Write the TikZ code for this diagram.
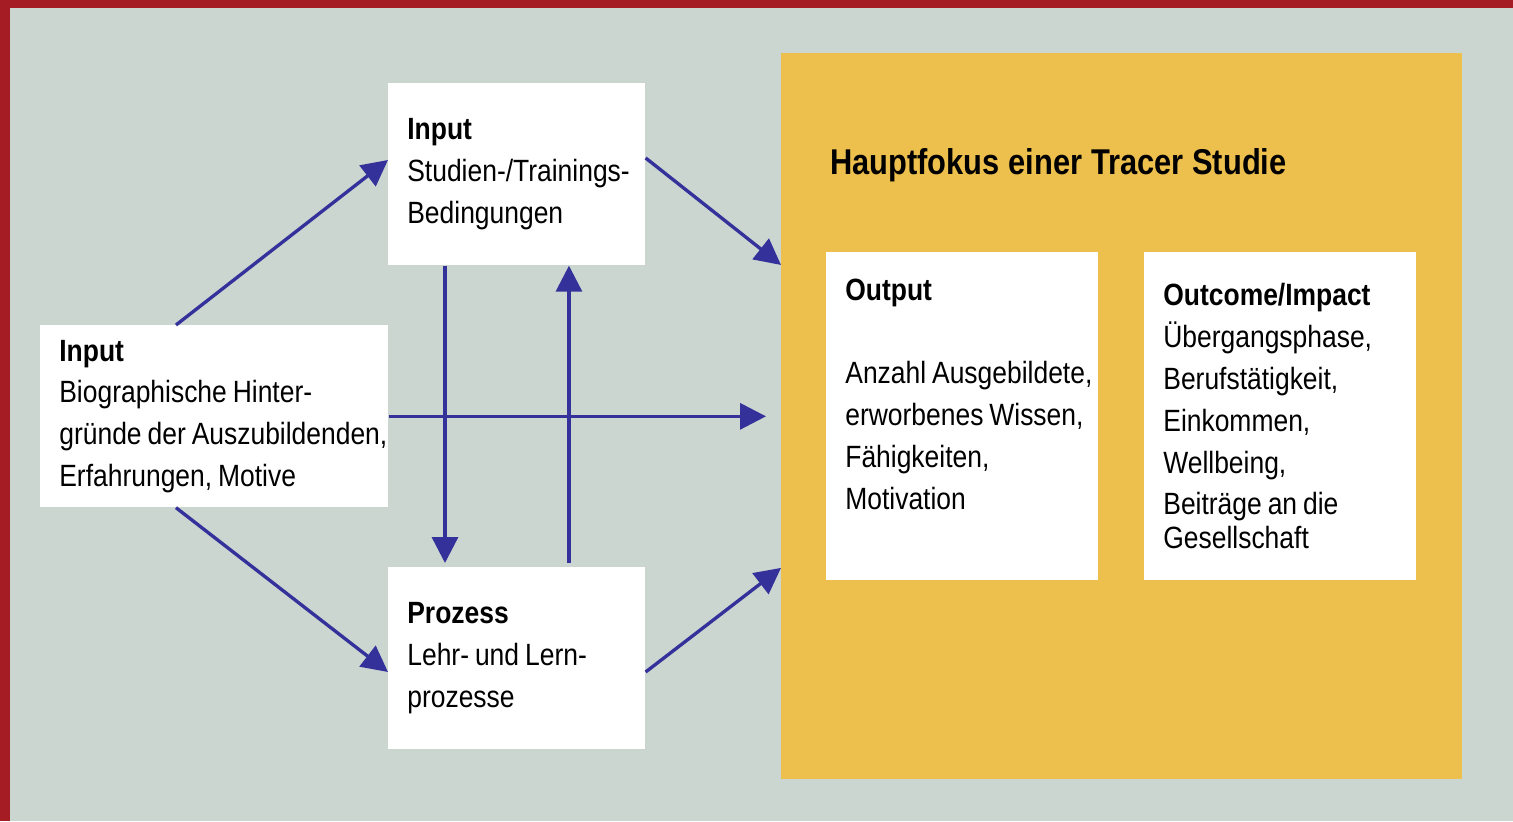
\documentclass[tikz,border=0pt]{standalone}
\usepackage{fontspec}
\setmainfont[FakeStretch=0.86]{Liberation Sans}
\usepackage{tikz}
\usetikzlibrary{
    arrows.meta,
    positioning
}
\hyphenpenalty=10000
\exhyphenpenalty=10000
\frenchspacing
\definecolor{frameRed}{HTML}{A51C24}
\definecolor{paneGrey}{HTML}{CBD6D1}
\definecolor{focusYellow}{HTML}{EDBF4C}
\definecolor{flowBlue}{HTML}{34329A}
\newcommand{\boxfont}{\fontsize{17.5}{23.8}\selectfont}
\newcommand{\boxspacing}{\spaceskip=3.4pt\relax\xspaceskip=3.4pt\relax}
\newcommand{\titlefont}{\bfseries\fontsize{20.4}{24}\selectfont\spaceskip=5pt\relax}
\tikzset{
    infobox/.style={fill=white, anchor=north west, inner xsep=0.38cm,
        align=left, text=black, font=\boxfont,
        execute at begin node=\boxspacing},
    flow/.style={draw=flowBlue, line width=1.9pt,
        -{Triangle[length=0.52cm,width=0.52cm]}},
}

\begin{document}
\begin{tikzpicture}[x=0.02cm, y=-0.02cm]
      % background and frame
      \fill[paneGrey] (0,0) rectangle (1513,821);
      \fill[frameRed] (0,0) rectangle (1513,8);
      \fill[frameRed] (0,0) rectangle (10,821);
      % main focus area
      \node[fill=focusYellow, anchor=north west, minimum width=13.62cm,
            minimum height=14.52cm, inner sep=0pt] (focus) at (781,53) {};
      \node[anchor=west, inner sep=0pt, font=\titlefont]
            (title) at (830,165) {Hauptfokus einer Tracer Studie};
      % boxes
      \node[infobox, text width=4.38cm, minimum height=3.64cm] (inTop) at (388,83)
            {\textbf{Input}\\ \mbox{Studien-/Trainings-}\\ Bedingungen};
      \node[infobox, text width=6.2cm, minimum height=3.64cm] (inLeft) at (40,325)
            {\textbf{Input}\\ \mbox{Biographische Hinter-}\\ \mbox{gründe der Auszubildenden,}\\ \mbox{Erfahrungen, Motive}};
      \node[infobox, text width=4.38cm, minimum height=3.64cm] (proz) at (388,567)
            {\textbf{Prozess}\\ \mbox{Lehr- und Lern-}\\ prozesse};
      \node[infobox, text width=4.68cm, minimum height=6.56cm] (out) at (826,252)
            {\textbf{Output}\\ \strut\\ \mbox{Anzahl Ausgebildete,}\\ \mbox{erworbenes Wissen,}\\ Fähigkeiten,\\ Motivation\\[-0.2cm] \strut};
      \node[infobox, text width=4.68cm, minimum height=6.56cm] (outc) at (1144,252)
            {\textbf{Outcome/Impact}\\ Übergangsphase,\\ Berufstätigkeit,\\ Einkommen,\\ Wellbeing,\\ \mbox{Beiträge an die}\\[-0.16cm] Gesellschaft};
      % connectors
      \draw[flow] ([xshift=2.72cm]inLeft.north west) -- ([yshift=-1.54cm]inTop.north west);
      \draw[flow] ([xshift=2.72cm]inLeft.south west) -- ([yshift=-2.1cm]proz.north west);
      \draw[flow] ([yshift=-1.5cm]inTop.north east) -- ([yshift=-4.24cm]focus.north west);
      \draw[flow] ([yshift=-2.1cm]proz.north east) -- ([yshift=-10.3cm]focus.north west);
      \draw[flow, shorten >=0.3cm] (inLeft.east) -- (inLeft.east -| focus.west);
      \draw[flow, shorten >=0.08cm] ([xshift=1.14cm]inTop.south west)
            -- ([xshift=1.14cm]inTop.south west |- proz.north);
      \draw[flow, shorten <=0.08cm] ([xshift=3.62cm]proz.north west)
            -- ([xshift=3.62cm]proz.north west |- inTop.south);
\end{tikzpicture}
\end{document}
